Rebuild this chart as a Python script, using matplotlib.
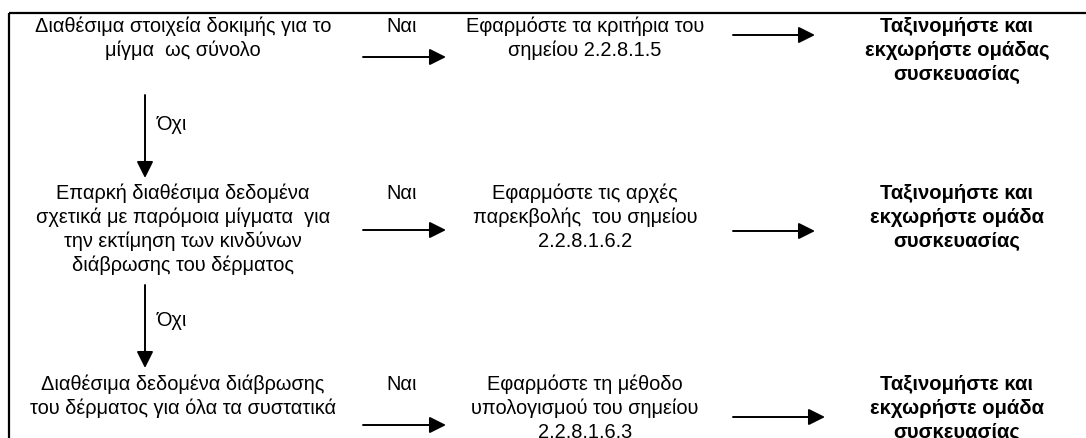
import matplotlib.pyplot as plt

plt.rcParams['font.family'] = ['Liberation Sans', 'DejaVu Sans']

# texts of the flow chart, one row per decision
conditions = [
    ['Διαθέσιμα στοιχεία δοκιμής για το', 'μίγμα  ως σύνολο'],
    ['Επαρκή διαθέσιμα δεδομένα', 'σχετικά με παρόμοια μίγματα  για',
     'την εκτίμηση των κινδύνων', 'διάβρωσης του δέρματος'],
    ['Διαθέσιμα δεδομένα διάβρωσης', 'του δέρματος για όλα τα συστατικά'],
]
actions = [
    ['Εφαρμόστε τα κριτήρια του', 'σημείου 2.2.8.1.5'],
    ['Εφαρμόστε τις αρχές', 'παρεκβολής  του σημείου', '2.2.8.1.6.2'],
    ['Εφαρμόστε τη μέθοδο', 'υπολογισμού του σημείου', '2.2.8.1.6.3'],
]
results = [
    ['Ταξινομήστε και', 'εκχωρήστε ομάδας', 'συσκευασίας'],
    ['Ταξινομήστε και', 'εκχωρήστε ομάδα', 'συσκευασίας'],
    ['Ταξινομήστε και', 'εκχωρήστε ομάδα', 'συσκευασίας'],
]
yes_label = 'Ναι'
no_label = 'Όχι'

fig = plt.figure(figsize=(10.86, 4.38), dpi=100)
ax = fig.add_axes([0, 0, 1, 1])
ax.set_xlim(0, 1086)
ax.set_ylim(438, 0)
ax.axis('off')

# layout in pixels
row_base = [32, 199, 390]
line_h = 24
col_x = [183, 585, 957]
yes_x = 402
arrow1 = (363, 446)
arrow2 = [(733, 815), (733, 815), (733, 825)]
arrow1_y = [57, 230, 425]
arrow2_y = [35, 231, 417]
down_x = 145
down_y = [(95, 178), (285, 368)]
no_y = [130, 326]

fs = 14.4
arrow_kw = dict(arrowstyle='-|>,head_length=1.0,head_width=0.5',
                mutation_scale=10, lw=1.4, color='black',
                shrinkA=0, shrinkB=0)

# frame (only top and left edge visible)
ax.plot([9, 1086], [13, 13], color='black', lw=1.6, solid_capstyle='butt')
ax.plot([9, 9], [13, 438], color='black', lw=1.6, solid_capstyle='butt')


def draw_lines(x, y0, lines, **kw):
    for i, s in enumerate(lines):
        ax.text(x, y0 + i * line_h, s, ha='center', va='baseline', **kw)


for r in range(3):
    y0 = row_base[r]
    draw_lines(col_x[0], y0, conditions[r], fontsize=fs)
    draw_lines(col_x[1], y0, actions[r], fontsize=fs)
    draw_lines(col_x[2], y0, results[r], fontsize=14.6, fontweight='bold')
    ax.text(yes_x, y0, yes_label, ha='center', va='baseline', fontsize=fs)
    ax.annotate('', xy=(arrow1[1], arrow1_y[r]), xytext=(arrow1[0], arrow1_y[r]),
                arrowprops=arrow_kw)
    ax.annotate('', xy=(arrow2[r][1], arrow2_y[r]), xytext=(arrow2[r][0], arrow2_y[r]),
                arrowprops=arrow_kw)

for (ya, yb), yn in zip(down_y, no_y):
    ax.annotate('', xy=(down_x, yb), xytext=(down_x, ya), arrowprops=arrow_kw)
    ax.text(157, yn, no_label, ha='left', va='baseline', fontsize=fs)

fig.savefig('out.png', dpi=100)
